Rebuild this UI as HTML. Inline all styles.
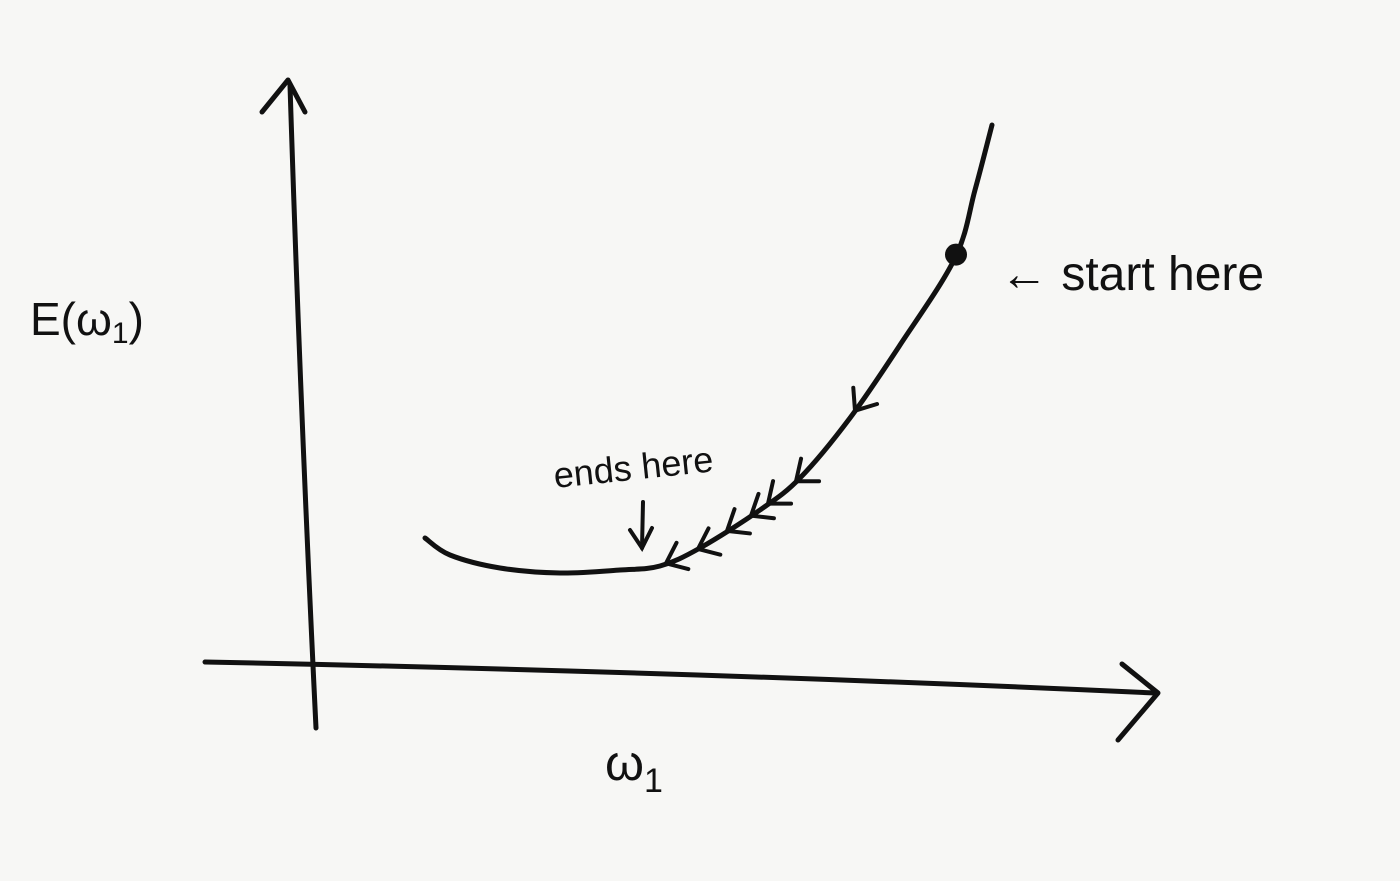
<!DOCTYPE html>
<html><head><meta charset="utf-8">
<style>
html,body{margin:0;padding:0;background:#f7f7f5;}
svg{display:block;}
text{font-family:"Liberation Sans",sans-serif;fill:#111;}
</style></head>
<body>
<svg id="chart" width="1400" height="881" viewBox="0 0 1400 881">
  <rect width="1400" height="881" fill="#f7f7f5"/>
  <g id="axes" stroke="#111" stroke-width="5" fill="none" stroke-linecap="round" stroke-linejoin="round">
    <path d="M316,728 Q300,400 290,85"/>
    <path d="M262,112 L288,80 L305,112"/>
    <path d="M205,662 Q700,672 1155,693"/>
    <path d="M1122,664 L1158,693 L1118,740"/>
  </g>
  <text x="30" y="335" font-size="46">E(ω<tspan font-size="30" dy="8">1</tspan><tspan dy="-8">)</tspan></text>
  <text x="605" y="780" font-size="50">ω<tspan font-size="34" dy="12">1</tspan></text>
  <text x="1000" y="290" font-size="48">← start here</text>
  <text x="555" y="488" font-size="36" transform="rotate(-6 555 488)">ends here</text>
  <g stroke="#111" stroke-width="4" fill="none" stroke-linecap="round">
    <path d="M643,502 L642,548"/><path d="M630,530 L642,548 L652,528"/>
  </g>
  <g id="series"></g>
</svg>
<script>
const wVals = [1.1,1.35,1.85,2.45,3.05,3.45,3.85,4.45,4.85,5.35,5.85,6.4,6.6,6.77];
const eVals = [1.27,1.1,0.97,0.92,0.95,0.99,1.17,1.55,1.87,2.47,3.2,4.07,4.75,5.4];
const stepIdx = [11.05,9.1,7.9,7.2,6.85,6.45,5.95,5.15];

function sx(w){return 315 + w*100;}
function sy(e){return 665 - e*100;}

const NS = "http://www.w3.org/2000/svg";
const g = document.getElementById('series');
const pts = wVals.map((w,i)=>[sx(w),sy(eVals[i])]);

function catmull(p){
  let d = "M"+p[0][0]+","+p[0][1];
  for(let i=0;i<p.length-1;i++){
    const p0=p[i-1]||p[i],p1=p[i],p2=p[i+1],p3=p[i+2]||p2;
    const c1=[p1[0]+(p2[0]-p0[0])/6,p1[1]+(p2[1]-p0[1])/6];
    const c2=[p2[0]-(p3[0]-p1[0])/6,p2[1]-(p3[1]-p1[1])/6];
    d+=" C"+c1[0]+","+c1[1]+" "+c2[0]+","+c2[1]+" "+p2[0]+","+p2[1];
  }
  return d;
}
const path = document.createElementNS(NS,'path');
path.setAttribute('d',catmull(pts));
path.setAttribute('stroke','#111');
path.setAttribute('stroke-width','5');
path.setAttribute('fill','none');
path.setAttribute('stroke-linecap','round');


g.appendChild(path);

function at(t){
  const i=Math.min(Math.floor(t),pts.length-2), f=t-i;
  return [pts[i][0]+(pts[i+1][0]-pts[i][0])*f, pts[i][1]+(pts[i+1][1]-pts[i][1])*f, pts[i+1][0]-pts[i][0], pts[i+1][1]-pts[i][1]];
}
stepIdx.forEach((t,k)=>{
  const [x,y,dx,dy]=at(t);
  const L=Math.hypot(dx,dy), ux=-dx/L, uy=-dy/L;
  if(k===0){
    const c=document.createElementNS(NS,'circle');
    c.setAttribute('cx',x);c.setAttribute('cy',y);c.setAttribute('r',11);c.setAttribute('fill','#111');
    
    
    g.appendChild(c);
    return;
  }
  const s=18, px=-uy, py=ux;
  const a=document.createElementNS(NS,'path');
  a.setAttribute('d',`M${x-ux*s+px*s*0.8},${y-uy*s+py*s*0.8} L${x},${y} L${x-ux*s-px*s*0.8},${y-uy*s-py*s*0.8}`);
  a.setAttribute('stroke','#111');a.setAttribute('stroke-width','4');a.setAttribute('fill','none');
  a.setAttribute('stroke-linecap','round');
  
  
  g.appendChild(a);
});
</script>
</body></html>
